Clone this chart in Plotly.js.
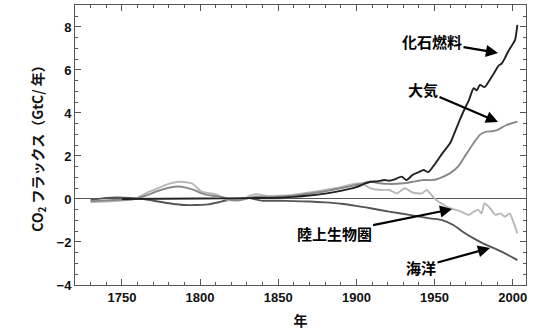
<!DOCTYPE html>
<html>
<head>
<meta charset="utf-8">
<script src="https://cdn.plot.ly/plotly-3.0.1.min.js"></script>
<style>html,body{margin:0;padding:0;background:#fff;}#chart{width:533px;height:336px;}</style>
</head>
<body>
<div id="chart"></div>
<script>
// ---- Data ----
const fossilYears  = [1750,1800,1830,1850,1860,1870,1880,1890,1900,1905,1909,1913,1918,1921,1924,1929,1932,1936,1940,1943,1946,1950,1955,1960,1964,1966,1969,1972,1975,1977,1979,1982,1985,1988,1991,1993,1995,1997,2000,2001.5,2003];
const fossilValues = [0.0,0.02,0.04,0.06,0.1,0.16,0.25,0.38,0.55,0.7,0.8,0.82,0.88,0.85,0.9,1.04,0.88,1.12,1.25,1.35,1.25,1.6,2.12,2.6,3.3,3.65,4.15,4.6,5.15,5.05,5.3,5.2,5.5,5.85,6.2,6.3,6.55,6.85,7.2,7.4,8.1];

const atmosYears  = [1730,1745,1758,1765,1773,1780,1786,1791,1796,1801,1808,1814,1820,1826,1835,1845,1850,1860,1870,1880,1890,1900,1909,1915,1921,1930,1936,1943,1949,1953,1960,1965,1970,1975,1979,1983,1987,1990,1996,2003];
const atmosValues = [-0.1,-0.05,0.0,0.15,0.37,0.52,0.58,0.53,0.42,0.26,0.15,0.1,-0.05,-0.05,0.1,0.08,0.1,0.15,0.25,0.36,0.5,0.65,0.8,0.73,0.7,0.73,0.8,0.88,0.88,0.96,1.2,1.5,2.05,2.6,2.98,3.13,3.15,3.2,3.44,3.6];

const landYears  = [1730,1745,1758,1765,1773,1780,1786,1791,1795,1801,1806,1810,1815,1818,1826,1832,1836,1842,1850,1860,1870,1880,1890,1900,1904,1909,1915,1921,1926,1931,1936,1942,1945,1948,1951,1956,1960,1964,1967,1972,1975,1978,1980,1982,1985.5,1989,1992,1995,1998,2000,2003];
const landValues = [-0.15,-0.1,0.0,0.25,0.5,0.7,0.8,0.78,0.72,0.34,0.27,0.22,0.03,-0.05,-0.05,0.15,0.22,0.15,0.15,0.2,0.3,0.42,0.55,0.72,0.7,0.5,0.42,0.42,0.26,0.5,0.3,0.26,0.42,0.19,-0.05,-0.28,-0.43,-0.51,-0.59,-0.74,-0.59,-0.51,-0.67,-0.2,-0.43,-0.74,-0.67,-0.82,-0.67,-0.98,-1.6];

const oceanYears  = [1730,1740,1755,1765,1773,1782,1790,1798,1805,1812,1818,1825,1830,1840,1850,1860,1870,1880,1890,1900,1909,1921,1934,1947,1955,1962,1968,1975,1981,1988,1995,2003];
const oceanValues = [-0.05,0.05,0.05,-0.02,-0.12,-0.22,-0.28,-0.28,-0.25,-0.15,-0.05,0.0,0.05,-0.08,-0.08,-0.1,-0.12,-0.16,-0.22,-0.32,-0.43,-0.59,-0.74,-0.9,-0.98,-1.21,-1.52,-1.83,-2.06,-2.29,-2.53,-2.84];

const seriesNames = ['化石燃料','大気','陸上生物圏','海洋'];
const xTickVals = [1750,1800,1850,1900,1950,2000];
const yTickVals = [-4,-2,0,2,4,6,8];

// ---- Plot ----
const traces = [
  {x: oceanYears,  y: oceanValues,  name: seriesNames[3], line:{color:'#555555', width:1.9}},
  {x: landYears,   y: landValues,   name: seriesNames[2], line:{color:'#b8b8b8', width:1.9}},
  {x: atmosYears,  y: atmosValues,  name: seriesNames[1], line:{color:'#888888', width:1.9}},
  {x: fossilYears, y: fossilValues, name: seriesNames[0], line:{color:'#222222', width:1.9}}
].map(t => Object.assign({type:'scatter', mode:'lines', hoverinfo:'skip'}, t));
traces.forEach(t => { t.line.shape = 'spline'; t.line.smoothing = 0.6; });

const tickFont = {family:'Liberation Sans, Arial, sans-serif', size:13, color:'#111', weight:'bold'};
const annFont = {family:'Noto Sans CJK JP, sans-serif', size:15, color:'#000', weight:'bold'};

function ann(text, x, y, ax, ay) {
  return {text: text, x: x, y: y, xref:'x', yref:'y', ax: ax, ay: ay,
          showarrow: true, arrowhead: 2, arrowsize: 1.1, arrowwidth: 2.2,
          arrowcolor: '#000', font: annFont, standoff: 0};
}

const layout = {
  width: 533, height: 336,
  margin: {l:75, r:7, t:5, b:51},
  paper_bgcolor:'#fff', plot_bgcolor:'#fff',
  showlegend: false,
  xaxis: {
    range:[1720, 2008.5], tickvals: xTickVals, ticktext: xTickVals.map(String),
    ticks:'inside', ticklen:6, tickcolor:'#555', tickwidth:1,
    minor:{dtick:10, tick0:1720, ticks:'inside', ticklen:3, tickcolor:'#555'},
    showline:true, linecolor:'#555', linewidth:1, mirror:'allticks',
    showgrid:false, zeroline:false, tickfont: tickFont,
    title:{text:'年', font:{family:'Noto Sans CJK JP, sans-serif', size:14, color:'#111', weight:'bold'}, standoff:12}
  },
  yaxis: {
    range:[-4, 9.02], tickvals: yTickVals, ticktext: yTickVals.map(v => v < 0 ? '\u2212' + Math.abs(v) : String(v)),
    ticks:'inside', ticklen:6, tickcolor:'#555', tickwidth:1,
    minor:{dtick:0.5, ticks:'inside', ticklen:3, tickcolor:'#555'},
    showline:true, linecolor:'#555', linewidth:1, mirror:'allticks',
    showgrid:false, zeroline:true, zerolinecolor:'#555', zerolinewidth:1,
    tickfont: tickFont,
    title:{text:'CO<sub>2</sub> フラックス（GtC/\u00a0年）', font:{family:'Noto Sans CJK JP, sans-serif', size:14, color:'#111', weight:'bold'}, standoff:9}
  },
  annotations: [
    ann(seriesNames[0], 1990.6, 6.79, -66, -11),
    ann(seriesNames[1], 1990.6, 3.58, -75, -32),
    ann(seriesNames[2], 1961.2, -0.47, -118, 24),
    ann(seriesNames[3], 1985.5, -2.28, -69, 19)
  ]
};

Plotly.newPlot('chart', traces, layout, {staticPlot:true, displayModeBar:false});
</script>
</body>
</html>
